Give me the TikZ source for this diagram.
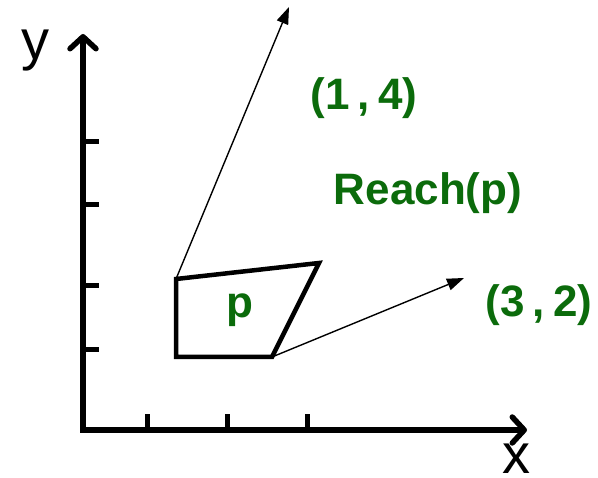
\documentclass[tikz,border=0pt]{standalone}
\usepackage{fontspec}
\setmainfont{Liberation Sans}
\usetikzlibrary{arrows.meta}
\definecolor{reach}{HTML}{0B6B0B}

\begin{document}
\begin{tikzpicture}[x=1pt,y=-1pt,
  axis/.style={line width=5.5pt,{Straight Barb[length=12pt,width=26pt,line cap=round,line join=round]}-{Straight Barb[length=12pt,width=26pt,line cap=round,line join=round]}},
  tick/.style={line width=5pt},
  ray/.style={line width=1.4pt,-{Triangle[length=17pt,width=12pt]}},
  lbl/.style={font=\fontsize{44}{44}\selectfont\bfseries,text=reach,inner sep=0pt,anchor=base},
  axlbl/.style={font=\fontsize{56}{56}\selectfont,inner sep=0pt,anchor=base}]
  \useasboundingbox (0,0) rectangle (598,478);

  % Axes
  \coordinate (O) at (83,430);
  \coordinate (ytip) at (83,34);
  \coordinate (xtip) at (527,430);
  \draw[axis] (ytip) -- (O) -- (xtip);
  \foreach \yy in {142,205,286,350}
    \draw[tick] (83,\yy) -- (99,\yy);
  \foreach \xx in {147,227,307}
    \draw[tick] (\xx,430) -- (\xx,414);
  \node[axlbl] (ylab) at (35,60) {y};
  \node[axlbl] (xlab) at (516,474) {x};

  % Polygon p
  \coordinate (pa) at (176,279);
  \coordinate (pb) at (319,263);
  \coordinate (pc) at (272,357);
  \coordinate (pd) at (176,357);
  \draw[line width=4.5pt] (pa) -- (pb) -- (pc) -- (pd) -- cycle;
  \node[lbl] (p) at (240,318) {p};

  % Directions
  \coordinate (d14) at (289,7);
  \coordinate (d32) at (464,278);
  \draw[ray] (pa) -- (d14);
  \draw[ray] (pc) -- (d32);
  \node[lbl] (l14) at (364,110) {(1\kern8pt,\kern8pt4)};
  \node[lbl] (reach) at (428,205) {Reach(p)};
  \node[lbl] (l32) at (539,317) {(3\kern8pt,\kern8pt2)};
\end{tikzpicture}
\end{document}
